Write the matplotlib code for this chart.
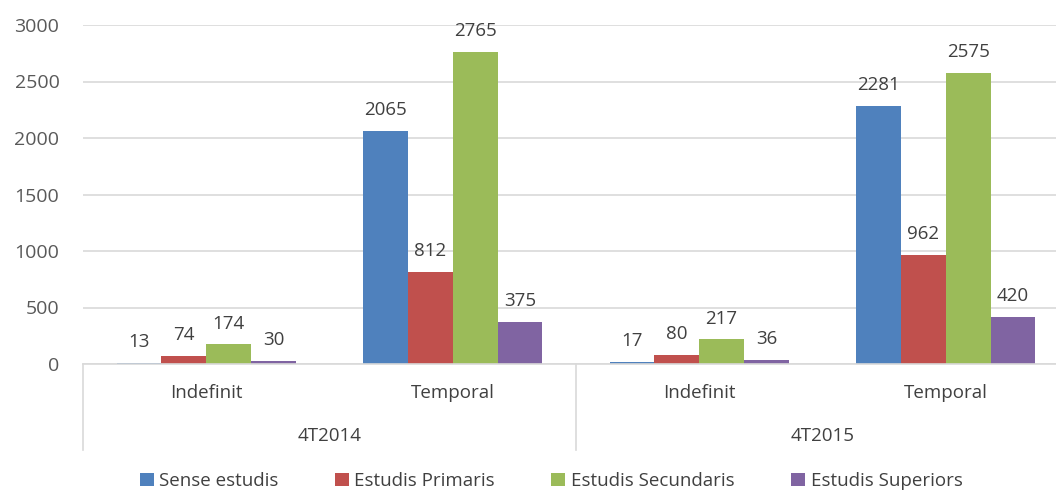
import numpy as np
import matplotlib
matplotlib.use("Agg")
import matplotlib.pyplot as plt
import matplotlib.transforms as mtransforms

plt.rcParams["font.family"] = ["Open Sans", "DejaVu Sans"]

# ============================================================
# Data
# ============================================================
CATEGORIES = ["Indefinit", "Temporal", "Indefinit", "Temporal"]
PERIODS = ["4T2014", "4T2015"]
SERIES = ["Sense estudis", "Estudis Primaris", "Estudis Secundaris", "Estudis Superiors"]
SENSE = [13, 2065, 17, 2281]
PRIMARIS = [74, 812, 80, 962]
SECUNDARIS = [174, 2765, 217, 2575]
SUPERIORS = [30, 375, 36, 420]
COLORS = ["#4F81BD", "#C0504D", "#9BBB59", "#8064A2"]

TEXT = "#404040"
GRID = "#D9D9D9"
FS = 13.5

fig = plt.figure(figsize=(10.56, 4.91), dpi=100)
ax = fig.add_axes([83 / 1056, 127 / 491, 986 / 1056, 339 / 491])

x = np.arange(len(CATEGORIES))
w = 1 / 5.5
values = [SENSE, PRIMARIS, SECUNDARIS, SUPERIORS]
for i, (name, vals, col) in enumerate(zip(SERIES, values, COLORS)):
    pos = x + (i - 1.5) * w
    ax.bar(pos, vals, width=w, color=col, label=name, zorder=2)
    for xp, v in zip(pos, vals):
        ax.annotate(f"{v}", (xp, v), xytext=(0, 15), textcoords="offset points",
                    ha="center", va="center", fontsize=FS, color=TEXT)

ax.set_xlim(-0.5, 3.5)
ax.set_ylim(0, 3000)
ax.set_yticks(np.arange(0, 3001, 500))
ax.yaxis.grid(True, color=GRID, linewidth=1.2, zorder=0)
ax.set_axisbelow(True)
for s in ["top", "right", "left"]:
    ax.spines[s].set_visible(False)
ax.spines["bottom"].set_color(GRID)
ax.spines["bottom"].set_linewidth(1.2)
ax.tick_params(axis="y", length=0, pad=17, labelsize=FS + 0.5, labelcolor="#595959")
ax.tick_params(axis="x", length=0)
ax.set_xticks([])

# multi-level category axis
trans = mtransforms.blended_transform_factory(ax.transData, ax.transAxes)
for xi, cat in zip(x, CATEGORIES):
    ax.text(xi, -0.085, cat, transform=trans, ha="center", va="center",
            fontsize=FS, color=TEXT)
for j, per in enumerate(PERIODS):
    ax.text(2 * j + 0.5, -0.213, per, transform=trans, ha="center", va="center",
            fontsize=FS, color=TEXT)
for xb in [-0.5, 1.5, 3.5]:
    ax.plot([xb, xb], [0, -0.254], transform=trans, color=GRID,
            linewidth=1.2, clip_on=False)

fig.legend(loc="center", bbox_to_anchor=(551 / 1056, 1 - 481 / 491), ncol=4,
           frameon=False, fontsize=FS, handlelength=0.75, handleheight=0.75,
           handletextpad=0.3, columnspacing=3.0, labelcolor=TEXT)

fig.savefig("out.png", dpi=100)
